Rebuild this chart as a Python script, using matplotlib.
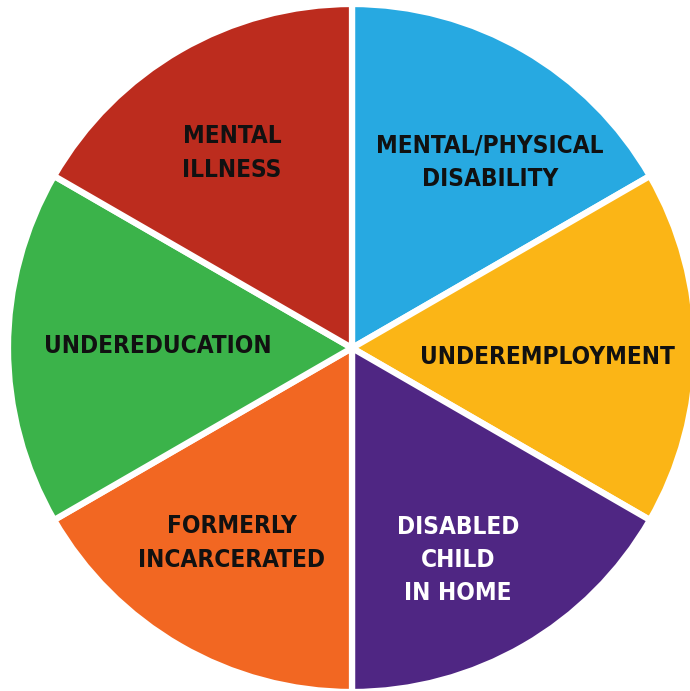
import matplotlib
matplotlib.use("Agg")
import matplotlib.pyplot as plt
import numpy as np

categories = ["MENTAL/PHYSICAL\nDISABILITY", "UNDEREMPLOYMENT", "DISABLED\nCHILD\nIN HOME",
              "FORMERLY\nINCARCERATED", "UNDEREDUCATION", "MENTAL\nILLNESS"]
values = [1, 1, 1, 1, 1, 1]
colors = ["#27A9E1", "#FBB516", "#4F2683", "#F26722", "#3BB34A", "#BC2C1E"]
text_colors = ["#111111", "#111111", "#FFFFFF", "#111111", "#111111", "#111111"]

W, H = 690, 691
fig = plt.figure(figsize=(W / 100, H / 100), dpi=100)
ax = fig.add_axes([0, 0, 1, 1])

cx, cy, r = 352, 348, 344
wedges, _ = ax.pie(values, colors=colors, startangle=-90, counterclock=True,
                   center=(cx, cy), radius=r, frame=True,
                   wedgeprops=dict(edgecolor="white", linewidth=4.5))
ax.set_xlim(0, W)
ax.set_ylim(H, 0)
ax.axis("off")
ax.set_aspect("equal")

label_pos = [(490, 162), (547, 357), (458, 560), (232, 543), (158, 346), (232, 153)]
for lab, (x, y), tc in zip(categories, label_pos, text_colors):
    ax.text(x, y, lab, ha="center", va="center", color=tc, fontsize=17.5,
            fontweight="bold", fontstretch="condensed", family="DejaVu Sans",
            linespacing=1.5)

fig.savefig("out.png", dpi=100)
